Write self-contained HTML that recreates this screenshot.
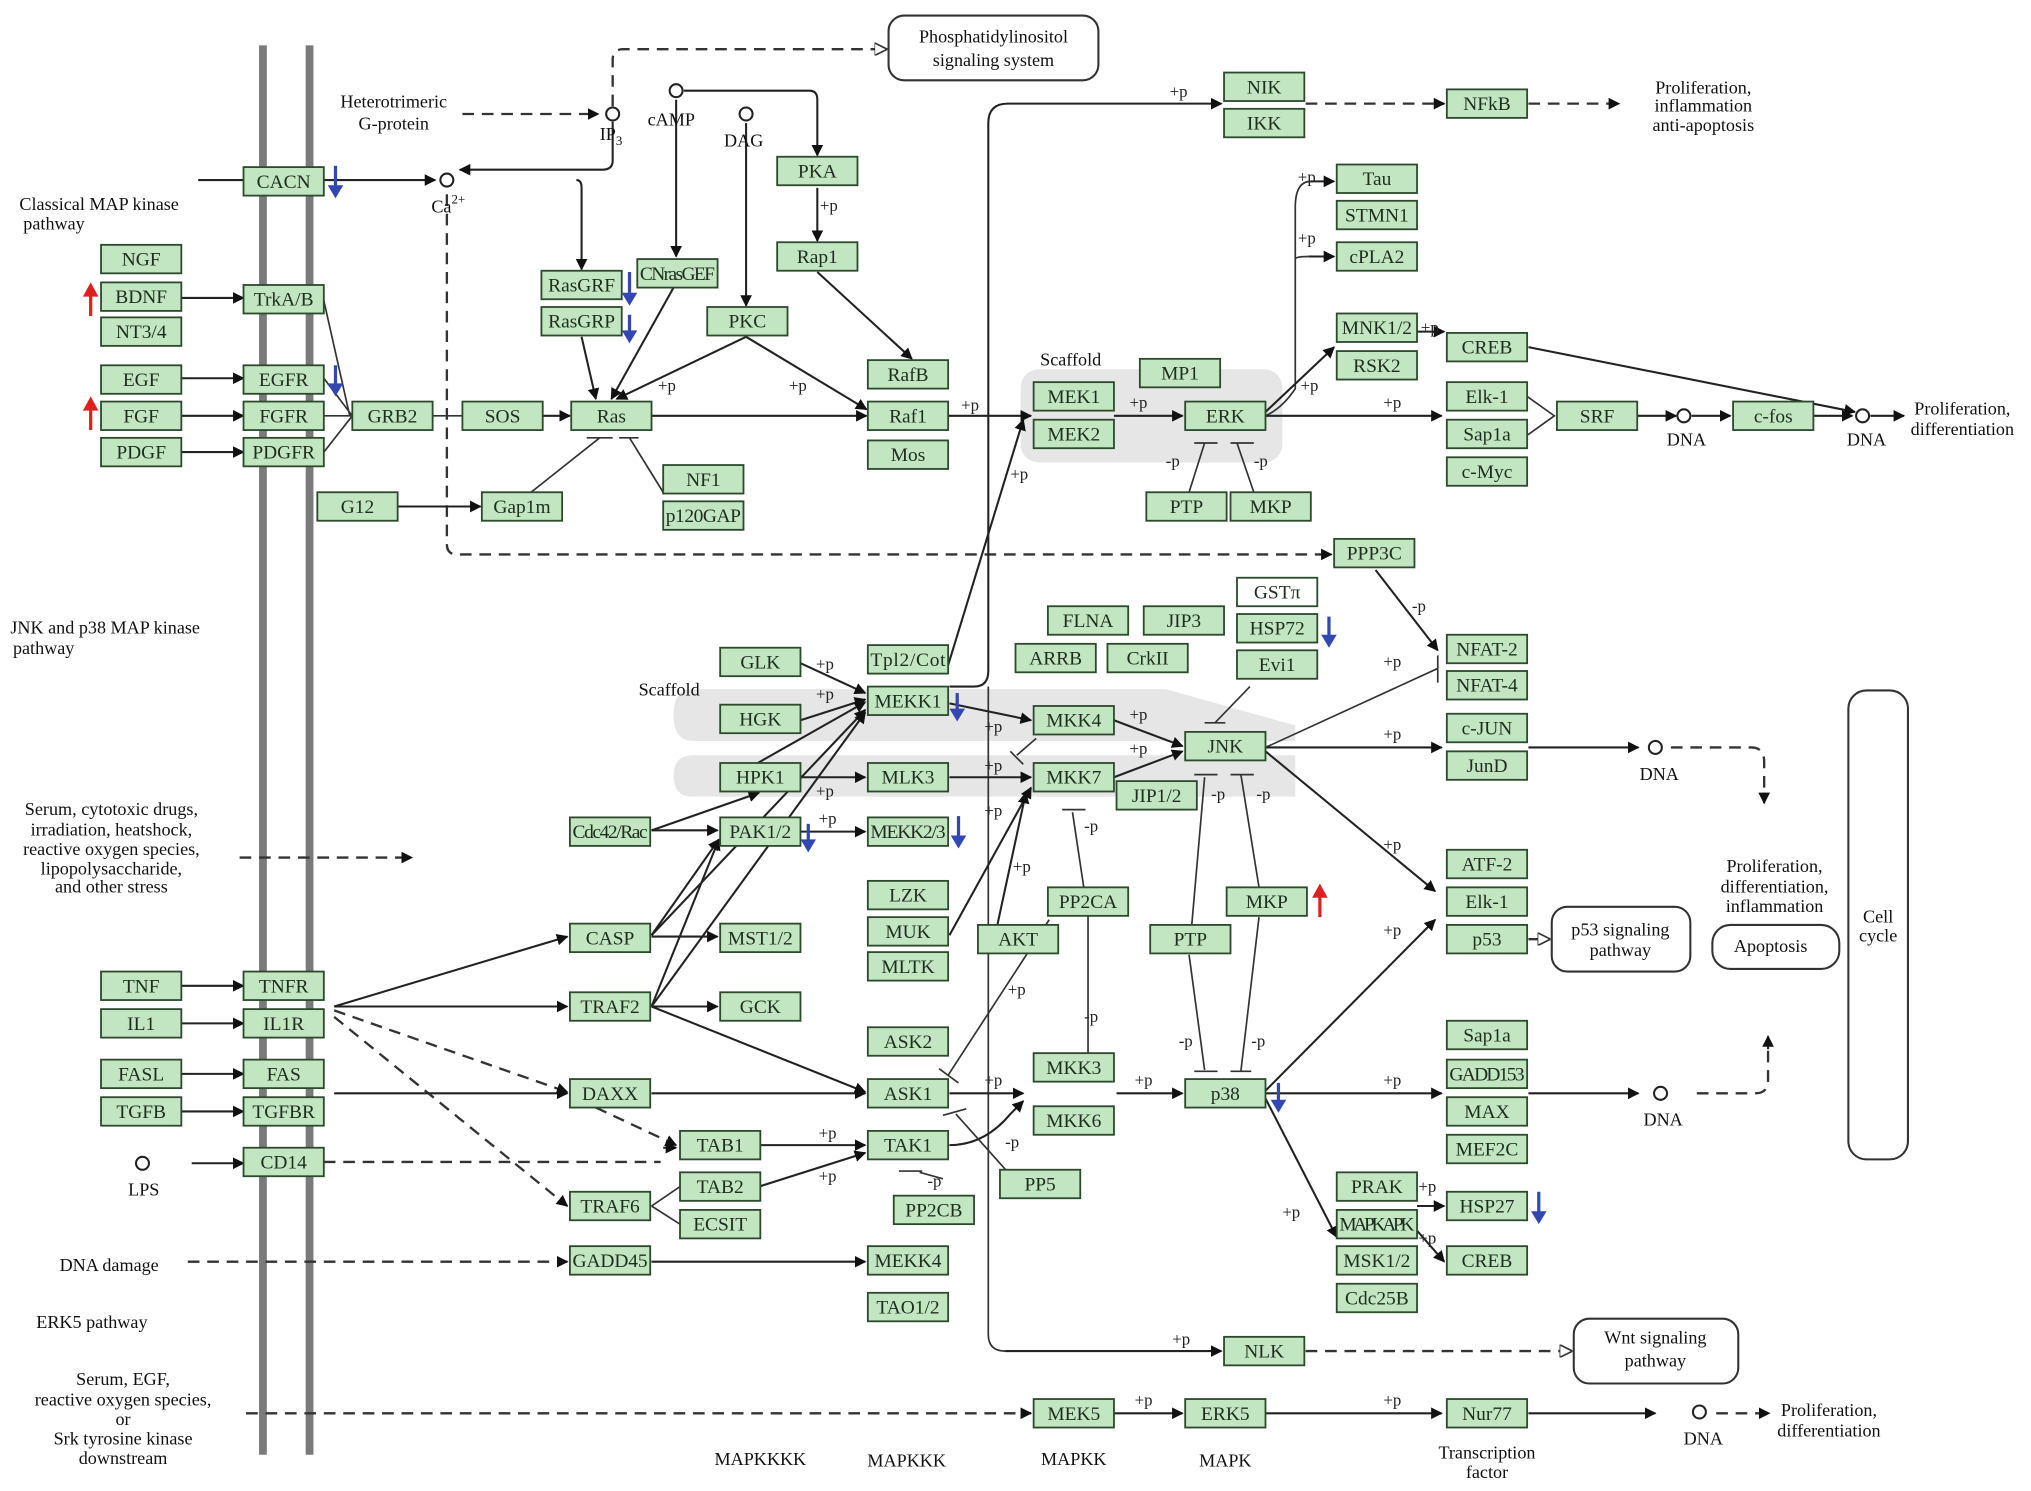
<!DOCTYPE html>
<html><head><meta charset="utf-8"><style>
html,body{margin:0;padding:0;background:#fff;}
svg{display:block;}
.b{fill:#c2e5c2;stroke:#2d4a2d;stroke-width:1.4;}
.w{fill:#fff;stroke:#2d4a2d;stroke-width:1.4;}
.t{font-family:"Liberation Serif",serif;font-size:15px;fill:#1e2e1e;text-anchor:middle;}
.l{font-family:"Liberation Serif",serif;font-size:14px;fill:#111;}
.c{text-anchor:middle;}
.p{font-family:"Liberation Serif",serif;font-size:13px;fill:#222;}
.e{stroke:#333;stroke-width:1.3;fill:none;}
.ea{stroke:#222;stroke-width:1.6;fill:none;marker-end:url(#a);}
.d{stroke:#333;stroke-width:1.8;fill:none;stroke-dasharray:9,6;}
.da{stroke:#333;stroke-width:1.8;fill:none;stroke-dasharray:9,6;marker-end:url(#a);}
.dw{stroke:#333;stroke-width:1.8;fill:none;stroke-dasharray:9,6;marker-end:url(#o);}
.r{fill:#fff;stroke:#333;stroke-width:1.6;}
</style></head><body>
<svg width="2031" height="1491" viewBox="0 0 1568 1151" preserveAspectRatio="none" xmlns="http://www.w3.org/2000/svg">
<defs>
<marker id="a" viewBox="0 0 10 10" refX="9" refY="5" markerWidth="9" markerHeight="9" markerUnits="userSpaceOnUse" orient="auto"><path d="M0,0L10,5L0,10z" fill="#111"/></marker>
<marker id="o" viewBox="0 0 10 10" refX="9" refY="5" markerWidth="10" markerHeight="10" markerUnits="userSpaceOnUse" orient="auto"><path d="M0,0L10,5L0,10z" fill="#fff" stroke="#333" stroke-width="1.3"/></marker>
</defs>

<!-- scaffold regions -->
<rect x="788" y="285" width="202" height="72" rx="14" fill="#e6e6e6"/>
<path d="M535,532 H900 L1000,560 V572 H535 Q520,572 520,552 Q520,532 535,532Z" fill="#e6e6e6"/>
<path d="M535,583 H1000 V615 H535 Q520,615 520,599 Q520,583 535,583Z" fill="#e6e6e6"/>

<!-- membrane -->
<rect x="200" y="35" width="6" height="1088" fill="#7a7a7a"/>
<rect x="236" y="35" width="6" height="1088" fill="#7a7a7a"/>

<!-- rounded boxes -->
<rect class="r" x="686" y="12" width="162" height="50" rx="12"/>
<text class="l c" x="767" y="33">Phosphatidylinositol</text><text class="l c" x="767" y="51">signaling system</text>
<rect class="r" x="1215" y="1018" width="127" height="50" rx="12"/>
<text class="l c" x="1278" y="1037">Wnt signaling</text><text class="l c" x="1278" y="1055">pathway</text>
<rect class="r" x="1198" y="700" width="107" height="50" rx="12"/>
<text class="l c" x="1251" y="722">p53 signaling</text><text class="l c" x="1251" y="738">pathway</text>
<rect class="r" x="1322" y="714" width="98" height="34" rx="14"/>
<text class="l c" x="1367" y="735">Apoptosis</text>
<rect class="r" x="1427" y="533" width="46" height="362" rx="14"/>
<text class="l c" x="1450" y="712">Cell</text><text class="l c" x="1450" y="727">cycle</text>

<!-- edges -->
<g>
<path class="da" d="M357,88 H462"/>
<path class="dw" d="M473,82 V46 Q473,38 481,38 H684"/>
<path class="ea" d="M473,94 V124 Q473,131 465,131 H355"/>
<path class="ea" d="M445,139 Q449,139 449,145 V208"/>
<path class="ea" d="M153,139 H188 M250,139 H336"/>
<path class="ea" d="M522,77 V198"/>
<path class="ea" d="M576,95 V236"/>
<path class="ea" d="M528,70 H625 Q631,70 631,77 V120"/>
<path class="ea" d="M631,145 V186"/>
<path class="ea" d="M631,210 L704,277"/>
<path class="d" d="M345,150 V420 Q345,428 353,428 H1020"/>
<path class="ea" d="M1020,428 H1028"/>
<path class="ea" d="M140,230 H188"/>
<path class="ea" d="M140,292 H188"/>
<path class="ea" d="M140,321 H188"/>
<path class="ea" d="M140,349 H188"/>
<path class="e" d="M250,232 L270,321 M250,292 L272,321 M250,321 H272 M250,349 L272,321"/>
<path class="e" d="M334,321 H357"/>
<path class="ea" d="M419,321 H440"/>
<path class="ea" d="M449,260 L460,308"/>
<path class="ea" d="M520,222 L472,308"/>
<path class="ea" d="M576,260 L476,308"/>
<path class="ea" d="M576,260 L669,316"/>
<path class="ea" d="M503,321 H669"/>
<path class="ea" d="M732,321 H796"/>
<path class="ea" d="M860,321 H913"/>
<path class="ea" d="M307,391 H371"/>
<path class="e" d="M410,380 L463,338 M453,338 H473 M478,338 H493 M486,338 L512,380"/>
<path class="e" d="M918,380 L930,342 M922,342 H940 M950,342 H968 M955,342 L968,380"/>
<path class="e" d="M977,321 Q990,315 1000,300 V160 Q1000,140 1012,140 M1000,200 Q1000,198 1010,198"/>
<path class="ea" d="M1012,140 H1030"/><path class="ea" d="M1010,198 H1030"/>
<path class="ea" d="M977,318 L1030,268"/>
<path class="ea" d="M977,321 H1113"/>
<path class="ea" d="M1093,256 H1115"/>
<path class="ea" d="M1180,268 L1432,318"/>
<path class="e" d="M1179,306 L1200,321 L1179,336"/>
<path class="ea" d="M1264,321 H1294"/>
<path class="ea" d="M1306,321 H1336"/>
<path class="ea" d="M1400,321 H1430"/>
<path class="ea" d="M1444,321 H1470"/>
<path class="ea" d="M733,530 H752 Q763,530 763,518 V95 Q763,80 778,80 H943"/>
<path class="d" d="M1008,80 H1115"/><path class="ea" d="M1108,80 H1115"/>
<path class="da" d="M1180,80 H1250"/>
<path class="ea" d="M730,520 L790,324"/>
<path class="e" d="M763,530 V1030 Q763,1043 776,1043"/>
<path class="ea" d="M776,1043 H943"/>
<path class="dw" d="M1008,1043 H1213"/>
<path class="ea" d="M1062,440 L1110,502"/>
<path class="e" d="M1110,506 V527"/>
<path class="e" d="M977,577 L1110,516"/>
<path class="e" d="M938,558 L965,530 M930,558 H946"/>
<path class="ea" d="M977,577 H1113"/>
<path class="ea" d="M1180,577 H1265"/>
<path class="d" d="M1290,577 H1352 Q1362,577 1362,588 V618"/><path class="ea" d="M1362,612 V620"/>
<path class="ea" d="M977,580 L1108,688"/>
<path class="e" d="M920,715 L930,600 M922,598 H940 M950,598 H968 M958,598 L972,685"/>
<path class="e" d="M918,737 L930,826 M922,827 H940 M950,827 H966 M958,827 L972,708"/>
<path class="e" d="M840,707 L828,627 M820,625 H838 M840,685 V826 M831,828 H848"/>
<path class="ea" d="M618,512 L668,535"/>
<path class="ea" d="M618,556 L668,540"/>
<path class="ea" d="M585,589 L668,542"/>
<path class="ea" d="M618,600 H668"/>
<path class="ea" d="M503,641 H554"/>
<path class="ea" d="M618,642 H668"/>
<path class="ea" d="M503,641 L586,612"/>
<path class="ea" d="M503,722 L555,648"/>
<path class="ea" d="M503,722 L668,548"/>
<path class="ea" d="M503,777 L555,648"/>
<path class="ea" d="M503,777 L668,550"/>
<path class="ea" d="M733,543 L796,556"/>
<path class="ea" d="M733,600 H796"/>
<path class="ea" d="M733,722 L796,608"/>
<path class="ea" d="M770,714 L792,612"/>
<path class="e" d="M785,583 L800,570 M780,580 L790,590"/>
<path class="ea" d="M860,556 L913,576"/>
<path class="ea" d="M860,600 L913,580"/>
<path class="ea" d="M258,777 L438,723"/>
<path class="ea" d="M258,777 H438"/>
<path class="da" d="M258,780 L438,843"/>
<path class="da" d="M258,785 L438,931"/>
<path class="ea" d="M258,844 H438"/>
<path class="ea" d="M503,723 H554"/>
<path class="ea" d="M503,777 H554"/>
<path class="ea" d="M503,777 L668,843"/>
<path class="ea" d="M503,844 H668"/>
<path class="da" d="M460,855 L522,884"/>
<path class="ea" d="M586,884 H668"/>
<path class="e" d="M503,931 L525,916 M503,931 L525,945"/>
<path class="ea" d="M586,916 L668,890"/>
<path class="d" d="M250,897 H510"/><path class="ea" d="M512,886 H522"/>
<path class="ea" d="M148,898 H188"/>
<path class="ea" d="M140,761 H188"/>
<path class="ea" d="M140,790 H188"/>
<path class="ea" d="M140,829 H188"/>
<path class="ea" d="M140,858 H188"/>
<path class="da" d="M185,662 H318"/>
<path class="da" d="M145,974 H438"/>
<path class="ea" d="M503,974 H668"/>
<path class="ea" d="M733,844 H790"/>
<path class="ea" d="M733,884 Q760,884 780,860 L790,850"/>
<path class="e" d="M732,830 L810,710 M725,825 L740,836"/>
<path class="e" d="M780,907 L738,860 M728,861 L746,856"/>
<path class="e" d="M728,910 L710,905 M694,904 H712"/>
<path class="ea" d="M862,844 H913"/>
<path class="ea" d="M977,842 L1108,710"/>
<path class="ea" d="M977,844 H1113"/>
<path class="ea" d="M1180,844 H1265"/>
<path class="d" d="M1310,844 H1355 Q1365,844 1365,834 V805"/><path class="ea" d="M1365,810 V800"/>
<path class="ea" d="M977,848 L1032,955"/>
<path class="ea" d="M1094,931 H1115"/>
<path class="ea" d="M1094,950 L1115,974"/>
<path class="dw" d="M1180,725 H1196"/>
<path class="da" d="M190,1091 H796"/>
<path class="ea" d="M860,1091 H913"/>
<path class="ea" d="M977,1091 H1113"/>
<path class="ea" d="M1180,1091 H1278"/>
<path class="da" d="M1325,1091 H1366"/>
</g>

<!-- circles -->
<g fill="#fff" stroke="#222" stroke-width="1.6">
<circle cx="473" cy="88" r="5"/><circle cx="522" cy="70" r="5"/><circle cx="576" cy="88" r="5"/>
<circle cx="345" cy="139" r="5"/><circle cx="1300" cy="321" r="5"/><circle cx="1438" cy="321" r="5"/>
<circle cx="1278" cy="577" r="5"/><circle cx="1282" cy="844" r="5"/><circle cx="1312" cy="1090" r="5"/>
<circle cx="110" cy="898" r="5"/>
</g>

<!-- boxes -->
<g>
<rect class="b" x="188" y="129" width="62" height="22"/><text class="t" x="219" y="145">CACN</text>
<rect class="b" x="78" y="189" width="62" height="22"/><text class="t" x="109" y="205">NGF</text>
<rect class="b" x="78" y="218" width="62" height="22"/><text class="t" x="109" y="234">BDNF</text>
<rect class="b" x="78" y="245" width="62" height="22"/><text class="t" x="109" y="261">NT3/4</text>
<rect class="b" x="188" y="220" width="62" height="22"/><text class="t" x="219" y="236">TrkA/B</text>
<rect class="b" x="78" y="282" width="62" height="22"/><text class="t" x="109" y="298">EGF</text>
<rect class="b" x="78" y="310" width="62" height="22"/><text class="t" x="109" y="326">FGF</text>
<rect class="b" x="78" y="338" width="62" height="22"/><text class="t" x="109" y="354">PDGF</text>
<rect class="b" x="188" y="282" width="62" height="22"/><text class="t" x="219" y="298">EGFR</text>
<rect class="b" x="188" y="310" width="62" height="22"/><text class="t" x="219" y="326">FGFR</text>
<rect class="b" x="188" y="338" width="62" height="22"/><text class="t" x="219" y="354">PDGFR</text>
<rect class="b" x="272" y="310" width="62" height="22"/><text class="t" x="303" y="326">GRB2</text>
<rect class="b" x="357" y="310" width="62" height="22"/><text class="t" x="388" y="326">SOS</text>
<rect class="b" x="441" y="310" width="62" height="22"/><text class="t" x="472" y="326">Ras</text>
<rect class="b" x="245" y="380" width="62" height="22"/><text class="t" x="276" y="396">G12</text>
<rect class="b" x="372" y="380" width="62" height="22"/><text class="t" x="403" y="396">Gap1m</text>
<rect class="b" x="512" y="359" width="62" height="22"/><text class="t" x="543" y="375">NF1</text>
<rect class="b" x="512" y="387" width="62" height="22"/><text class="t" x="543" y="403" textLength="58">p120GAP</text>
<rect class="b" x="418" y="209" width="62" height="22"/><text class="t" x="449" y="225">RasGRF</text>
<rect class="b" x="418" y="237" width="62" height="22"/><text class="t" x="449" y="253">RasGRP</text>
<rect class="b" x="492" y="200" width="62" height="22"/><text class="t" x="523" y="216" textLength="58">CNrasGEF</text>
<rect class="b" x="546" y="237" width="62" height="22"/><text class="t" x="577" y="253">PKC</text>
<rect class="b" x="600" y="121" width="62" height="22"/><text class="t" x="631" y="137">PKA</text>
<rect class="b" x="600" y="187" width="62" height="22"/><text class="t" x="631" y="203">Rap1</text>
<rect class="b" x="670" y="278" width="62" height="22"/><text class="t" x="701" y="294">RafB</text>
<rect class="b" x="670" y="310" width="62" height="22"/><text class="t" x="701" y="326">Raf1</text>
<rect class="b" x="670" y="340" width="62" height="22"/><text class="t" x="701" y="356">Mos</text>
<rect class="b" x="798" y="295" width="62" height="22"/><text class="t" x="829" y="311">MEK1</text>
<rect class="b" x="798" y="324" width="62" height="22"/><text class="t" x="829" y="340">MEK2</text>
<rect class="b" x="880" y="277" width="62" height="22"/><text class="t" x="911" y="293">MP1</text>
<rect class="b" x="915" y="310" width="62" height="22"/><text class="t" x="946" y="326">ERK</text>
<rect class="b" x="885" y="380" width="62" height="22"/><text class="t" x="916" y="396">PTP</text>
<rect class="b" x="950" y="380" width="62" height="22"/><text class="t" x="981" y="396">MKP</text>
<rect class="b" x="945" y="56" width="62" height="22"/><text class="t" x="976" y="72">NIK</text>
<rect class="b" x="945" y="84" width="62" height="22"/><text class="t" x="976" y="100">IKK</text>
<rect class="b" x="1117" y="69" width="62" height="22"/><text class="t" x="1148" y="85">NFkB</text>
<rect class="b" x="1032" y="127" width="62" height="22"/><text class="t" x="1063" y="143">Tau</text>
<rect class="b" x="1032" y="155" width="62" height="22"/><text class="t" x="1063" y="171">STMN1</text>
<rect class="b" x="1032" y="187" width="62" height="22"/><text class="t" x="1063" y="203">cPLA2</text>
<rect class="b" x="1032" y="242" width="62" height="22"/><text class="t" x="1063" y="258">MNK1/2</text>
<rect class="b" x="1032" y="271" width="62" height="22"/><text class="t" x="1063" y="287">RSK2</text>
<rect class="b" x="1117" y="257" width="62" height="22"/><text class="t" x="1148" y="273">CREB</text>
<rect class="b" x="1117" y="295" width="62" height="22"/><text class="t" x="1148" y="311">Elk-1</text>
<rect class="b" x="1117" y="324" width="62" height="22"/><text class="t" x="1148" y="340">Sap1a</text>
<rect class="b" x="1117" y="353" width="62" height="22"/><text class="t" x="1148" y="369">c-Myc</text>
<rect class="b" x="1202" y="310" width="62" height="22"/><text class="t" x="1233" y="326">SRF</text>
<rect class="b" x="1338" y="310" width="62" height="22"/><text class="t" x="1369" y="326">c-fos</text>
<rect class="b" x="1030" y="416" width="62" height="22"/><text class="t" x="1061" y="432">PPP3C</text>
<rect class="w" x="955" y="446" width="62" height="22"/><text class="t" x="986" y="462">GSTπ</text>
<rect class="b" x="955" y="474" width="62" height="22"/><text class="t" x="986" y="490">HSP72</text>
<rect class="b" x="955" y="502" width="62" height="22"/><text class="t" x="986" y="518">Evi1</text>
<rect class="b" x="809" y="468" width="62" height="22"/><text class="t" x="840" y="484">FLNA</text>
<rect class="b" x="883" y="468" width="62" height="22"/><text class="t" x="914" y="484">JIP3</text>
<rect class="b" x="784" y="497" width="62" height="22"/><text class="t" x="815" y="513">ARRB</text>
<rect class="b" x="855" y="497" width="62" height="22"/><text class="t" x="886" y="513">CrkII</text>
<rect class="b" x="1117" y="490" width="62" height="22"/><text class="t" x="1148" y="506">NFAT-2</text>
<rect class="b" x="1117" y="518" width="62" height="22"/><text class="t" x="1148" y="534">NFAT-4</text>
<rect class="b" x="1117" y="551" width="62" height="22"/><text class="t" x="1148" y="567">c-JUN</text>
<rect class="b" x="1117" y="580" width="62" height="22"/><text class="t" x="1148" y="596">JunD</text>
<rect class="b" x="556" y="500" width="62" height="22"/><text class="t" x="587" y="516">GLK</text>
<rect class="b" x="556" y="544" width="62" height="22"/><text class="t" x="587" y="560">HGK</text>
<rect class="b" x="670" y="498" width="62" height="22"/><text class="t" x="701" y="514" textLength="58">Tpl2/Cot</text>
<rect class="b" x="670" y="530" width="62" height="22"/><text class="t" x="701" y="546">MEKK1</text>
<rect class="b" x="798" y="545" width="62" height="22"/><text class="t" x="829" y="561">MKK4</text>
<rect class="b" x="798" y="589" width="62" height="22"/><text class="t" x="829" y="605">MKK7</text>
<rect class="b" x="915" y="565" width="62" height="22"/><text class="t" x="946" y="581">JNK</text>
<rect class="b" x="862" y="603" width="62" height="22"/><text class="t" x="893" y="619">JIP1/2</text>
<rect class="b" x="556" y="589" width="62" height="22"/><text class="t" x="587" y="605">HPK1</text>
<rect class="b" x="670" y="589" width="62" height="22"/><text class="t" x="701" y="605">MLK3</text>
<rect class="b" x="440" y="631" width="62" height="22"/><text class="t" x="471" y="647" textLength="58">Cdc42/Rac</text>
<rect class="b" x="556" y="631" width="62" height="22"/><text class="t" x="587" y="647">PAK1/2</text>
<rect class="b" x="670" y="631" width="62" height="22"/><text class="t" x="701" y="647" textLength="58">MEKK2/3</text>
<rect class="b" x="670" y="680" width="62" height="22"/><text class="t" x="701" y="696">LZK</text>
<rect class="b" x="670" y="708" width="62" height="22"/><text class="t" x="701" y="724">MUK</text>
<rect class="b" x="670" y="735" width="62" height="22"/><text class="t" x="701" y="751">MLTK</text>
<rect class="b" x="755" y="714" width="62" height="22"/><text class="t" x="786" y="730">AKT</text>
<rect class="b" x="809" y="685" width="62" height="22"/><text class="t" x="840" y="701">PP2CA</text>
<rect class="b" x="888" y="714" width="62" height="22"/><text class="t" x="919" y="730">PTP</text>
<rect class="b" x="947" y="685" width="62" height="22"/><text class="t" x="978" y="701">MKP</text>
<rect class="b" x="1117" y="656" width="62" height="22"/><text class="t" x="1148" y="672">ATF-2</text>
<rect class="b" x="1117" y="685" width="62" height="22"/><text class="t" x="1148" y="701">Elk-1</text>
<rect class="b" x="1117" y="714" width="62" height="22"/><text class="t" x="1148" y="730">p53</text>
<rect class="b" x="440" y="713" width="62" height="22"/><text class="t" x="471" y="729">CASP</text>
<rect class="b" x="556" y="713" width="62" height="22"/><text class="t" x="587" y="729">MST1/2</text>
<rect class="b" x="440" y="766" width="62" height="22"/><text class="t" x="471" y="782">TRAF2</text>
<rect class="b" x="556" y="766" width="62" height="22"/><text class="t" x="587" y="782">GCK</text>
<rect class="b" x="670" y="793" width="62" height="22"/><text class="t" x="701" y="809">ASK2</text>
<rect class="b" x="670" y="833" width="62" height="22"/><text class="t" x="701" y="849">ASK1</text>
<rect class="b" x="798" y="813" width="62" height="22"/><text class="t" x="829" y="829">MKK3</text>
<rect class="b" x="798" y="854" width="62" height="22"/><text class="t" x="829" y="870">MKK6</text>
<rect class="b" x="915" y="833" width="62" height="22"/><text class="t" x="946" y="849">p38</text>
<rect class="b" x="440" y="833" width="62" height="22"/><text class="t" x="471" y="849">DAXX</text>
<rect class="b" x="525" y="873" width="62" height="22"/><text class="t" x="556" y="889">TAB1</text>
<rect class="b" x="525" y="905" width="62" height="22"/><text class="t" x="556" y="921">TAB2</text>
<rect class="b" x="525" y="934" width="62" height="22"/><text class="t" x="556" y="950">ECSIT</text>
<rect class="b" x="670" y="873" width="62" height="22"/><text class="t" x="701" y="889">TAK1</text>
<rect class="b" x="772" y="903" width="62" height="22"/><text class="t" x="803" y="919">PP5</text>
<rect class="b" x="690" y="923" width="62" height="22"/><text class="t" x="721" y="939">PP2CB</text>
<rect class="b" x="440" y="920" width="62" height="22"/><text class="t" x="471" y="936">TRAF6</text>
<rect class="b" x="440" y="962" width="62" height="22"/><text class="t" x="471" y="978" textLength="58">GADD45</text>
<rect class="b" x="670" y="962" width="62" height="22"/><text class="t" x="701" y="978">MEKK4</text>
<rect class="b" x="670" y="998" width="62" height="22"/><text class="t" x="701" y="1014">TAO1/2</text>
<rect class="b" x="1117" y="788" width="62" height="22"/><text class="t" x="1148" y="804">Sap1a</text>
<rect class="b" x="1117" y="818" width="62" height="22"/><text class="t" x="1148" y="834" textLength="58">GADD153</text>
<rect class="b" x="1117" y="847" width="62" height="22"/><text class="t" x="1148" y="863">MAX</text>
<rect class="b" x="1117" y="876" width="62" height="22"/><text class="t" x="1148" y="892">MEF2C</text>
<rect class="b" x="1032" y="905" width="62" height="22"/><text class="t" x="1063" y="921">PRAK</text>
<rect class="b" x="1032" y="934" width="62" height="22"/><text class="t" x="1063" y="950" textLength="58">MAPKAPK</text>
<rect class="b" x="1032" y="962" width="62" height="22"/><text class="t" x="1063" y="978">MSK1/2</text>
<rect class="b" x="1032" y="991" width="62" height="22"/><text class="t" x="1063" y="1007">Cdc25B</text>
<rect class="b" x="1117" y="920" width="62" height="22"/><text class="t" x="1148" y="936">HSP27</text>
<rect class="b" x="1117" y="962" width="62" height="22"/><text class="t" x="1148" y="978">CREB</text>
<rect class="b" x="945" y="1032" width="62" height="22"/><text class="t" x="976" y="1048">NLK</text>
<rect class="b" x="798" y="1080" width="62" height="22"/><text class="t" x="829" y="1096">MEK5</text>
<rect class="b" x="915" y="1080" width="62" height="22"/><text class="t" x="946" y="1096">ERK5</text>
<rect class="b" x="1117" y="1080" width="62" height="22"/><text class="t" x="1148" y="1096">Nur77</text>
<rect class="b" x="78" y="750" width="62" height="22"/><text class="t" x="109" y="766">TNF</text>
<rect class="b" x="78" y="779" width="62" height="22"/><text class="t" x="109" y="795">IL1</text>
<rect class="b" x="78" y="818" width="62" height="22"/><text class="t" x="109" y="834">FASL</text>
<rect class="b" x="78" y="847" width="62" height="22"/><text class="t" x="109" y="863">TGFB</text>
<rect class="b" x="188" y="750" width="62" height="22"/><text class="t" x="219" y="766">TNFR</text>
<rect class="b" x="188" y="779" width="62" height="22"/><text class="t" x="219" y="795">IL1R</text>
<rect class="b" x="188" y="818" width="62" height="22"/><text class="t" x="219" y="834">FAS</text>
<rect class="b" x="188" y="847" width="62" height="22"/><text class="t" x="219" y="863">TGFBR</text>
<rect class="b" x="188" y="886" width="62" height="22"/><text class="t" x="219" y="902">CD14</text>
</g>

<!-- expression arrows -->
<g stroke-width="2.5" fill="none">
<path d="M259,128 V150" stroke="#3347b0"/><path d="M253,143 L259,153 L265,143z" fill="#3347b0" stroke="none"/>
<path d="M259,282 V302" stroke="#3347b0"/><path d="M253,296 L259,306 L265,296z" fill="#3347b0" stroke="none"/>
<path d="M486,210 V232" stroke="#3347b0"/><path d="M480,226 L486,236 L492,226z" fill="#3347b0" stroke="none"/>
<path d="M486,243 V260" stroke="#3347b0"/><path d="M480,255 L486,265 L492,255z" fill="#3347b0" stroke="none"/>
<path d="M739,535 V552" stroke="#3347b0"/><path d="M733,547 L739,557 L745,547z" fill="#3347b0" stroke="none"/>
<path d="M624,636 V654" stroke="#3347b0"/><path d="M618,648 L624,658 L630,648z" fill="#3347b0" stroke="none"/>
<path d="M740,630 V650" stroke="#3347b0"/><path d="M734,645 L740,655 L746,645z" fill="#3347b0" stroke="none"/>
<path d="M1026,476 V496" stroke="#3347b0"/><path d="M1020,490 L1026,500 L1032,490z" fill="#3347b0" stroke="none"/>
<path d="M987,836 V854" stroke="#3347b0"/><path d="M981,849 L987,859 L993,849z" fill="#3347b0" stroke="none"/>
<path d="M1188,920 V940" stroke="#3347b0"/><path d="M1182,935 L1188,945 L1194,935z" fill="#3347b0" stroke="none"/>
<path d="M70,244 V226" stroke="#e02020"/><path d="M64,229 L70,218 L76,229z" fill="#e02020" stroke="none"/>
<path d="M70,332 V314" stroke="#e02020"/><path d="M64,317 L70,306 L76,317z" fill="#e02020" stroke="none"/>
<path d="M1019,708 V690" stroke="#e02020"/><path d="M1013,693 L1019,682 L1025,693z" fill="#e02020" stroke="none"/>
</g>

<!-- labels -->
<g class="l">
<text x="15" y="162">Classical MAP kinase</text><text x="18" y="177">pathway</text>
<text class="c" x="304" y="83">Heterotrimeric</text><text class="c" x="304" y="100">G-protein</text>
<text x="463" y="108">IP<tspan font-size="10" dy="4">3</tspan></text>
<text x="500" y="97">cAMP</text><text x="559" y="113">DAG</text>
<text x="333" y="164">Ca<tspan font-size="10" dy="-7">2+</tspan></text>
<text x="8" y="489">JNK and p38 MAP kinase</text><text x="10" y="505">pathway</text>
<text class="c" x="86" y="629">Serum, cytotoxic drugs,</text><text class="c" x="86" y="645">irradiation, heatshock,</text>
<text class="c" x="86" y="660">reactive oxygen species,</text><text class="c" x="86" y="675">lipopolysaccharide,</text>
<text class="c" x="86" y="689">and other stress</text>
<text x="46" y="981">DNA damage</text>
<text x="28" y="1025">ERK5 pathway</text>
<text class="c" x="95" y="1069">Serum, EGF,</text><text class="c" x="95" y="1085">reactive oxygen species,</text>
<text class="c" x="95" y="1100">or</text><text class="c" x="95" y="1115">Srk tyrosine kinase</text><text class="c" x="95" y="1130">downstream</text>
<text class="c" x="111" y="923">LPS</text>
<text x="803" y="282">Scaffold</text><text x="493" y="537">Scaffold</text>
<text class="c" x="1315" y="72">Proliferation,</text><text class="c" x="1315" y="86">inflammation</text><text class="c" x="1315" y="101">anti-apoptosis</text>
<text class="c" x="1515" y="320">Proliferation,</text><text class="c" x="1515" y="336">differentiation</text>
<text class="c" x="1302" y="344">DNA</text><text class="c" x="1441" y="344">DNA</text>
<text class="c" x="1281" y="602">DNA</text><text class="c" x="1284" y="869">DNA</text><text class="c" x="1315" y="1115">DNA</text>
<text class="c" x="1370" y="673">Proliferation,</text><text class="c" x="1370" y="689">differentiation,</text><text class="c" x="1370" y="704">inflammation</text>
<text class="c" x="1412" y="1093">Proliferation,</text><text class="c" x="1412" y="1109">differentiation</text>
<text class="c" x="587" y="1131">MAPKKKK</text><text class="c" x="700" y="1132">MAPKKK</text>
<text class="c" x="829" y="1131">MAPKK</text><text class="c" x="946" y="1132">MAPK</text>
<text class="c" x="1148" y="1126">Transcription</text><text class="c" x="1148" y="1141">factor</text>
</g>
<g class="p">
<text x="633" y="163">+p</text><text x="508" y="302">+p</text><text x="609" y="302">+p</text><text x="742" y="317">+p</text>
<text x="872" y="315">+p</text><text x="780" y="370">+p</text><text x="903" y="75">+p</text>
<text x="1002" y="141">+p</text><text x="1002" y="188">+p</text><text x="1004" y="302">+p</text><text x="1097" y="257">+p</text>
<text x="1068" y="315">+p</text><text x="900" y="360">-p</text><text x="968" y="360">-p</text>
<text x="1090" y="472">-p</text><text x="1068" y="515">+p</text><text x="1068" y="571">+p</text>
<text x="630" y="517">+p</text><text x="630" y="540">+p</text><text x="630" y="615">+p</text><text x="632" y="636">+p</text>
<text x="760" y="565">+p</text><text x="760" y="595">+p</text><text x="760" y="630">+p</text><text x="782" y="673">+p</text>
<text x="872" y="556">+p</text><text x="872" y="582">+p</text><text x="935" y="617">-p</text><text x="970" y="617">-p</text>
<text x="837" y="642">-p</text><text x="837" y="789">-p</text><text x="778" y="768">+p</text>
<text x="1068" y="656">+p</text><text x="1068" y="722">+p</text><text x="1068" y="838">+p</text>
<text x="910" y="808">-p</text><text x="966" y="808">-p</text><text x="876" y="838">+p</text><text x="760" y="838">+p</text>
<text x="776" y="886">-p</text><text x="716" y="916">-p</text><text x="632" y="879">+p</text><text x="632" y="912">+p</text>
<text x="990" y="940">+p</text><text x="1095" y="920">+p</text><text x="1095" y="960">+p</text>
<text x="905" y="1038">+p</text><text x="876" y="1085">+p</text><text x="1068" y="1085">+p</text>
</g>
</svg>
</body></html>
